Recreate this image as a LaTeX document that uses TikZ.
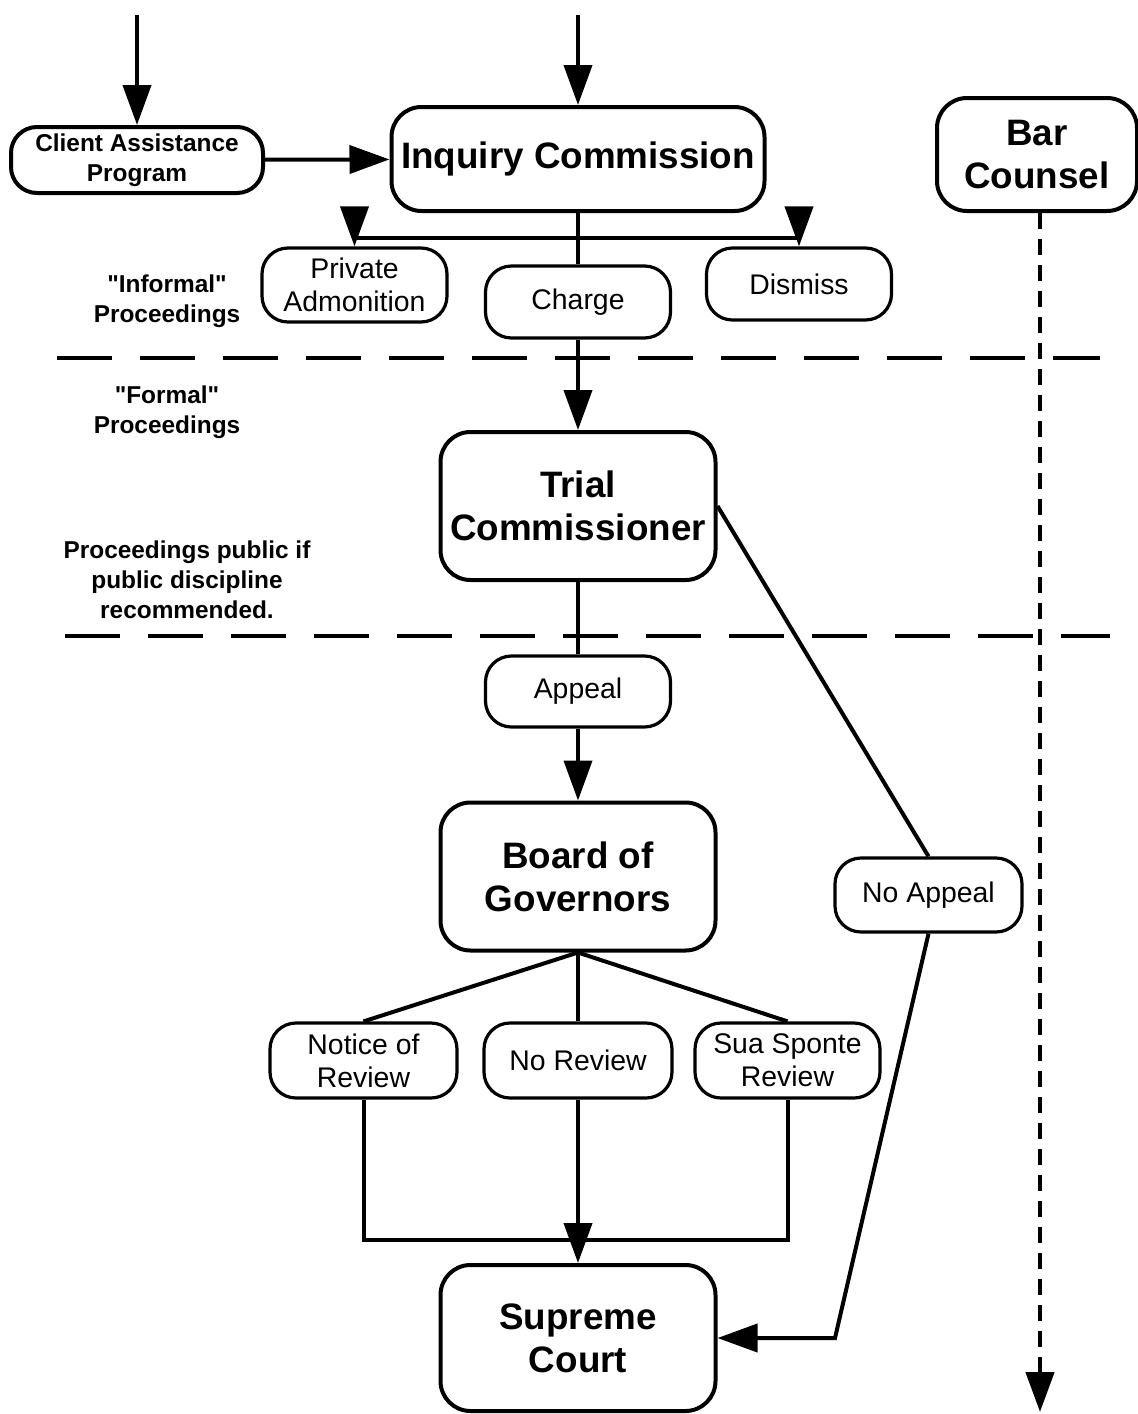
\documentclass[tikz,border=0pt]{standalone}
\usepackage{fontspec}
\setmainfont{Liberation Sans}[Ligatures=TeXOff]
\usetikzlibrary{arrows.meta}

\tikzset{
  bigbox/.style={draw, line width=2pt, rounded corners=15pt, inner sep=0pt, align=center,
    minimum width=137.5pt, minimum height=74pt, font=\fontsize{18.4}{21.5}\selectfont\bfseries},
  smallbox/.style={draw, line width=1.6pt, rounded corners=13pt, inner sep=0pt, align=center,
    minimum width=92.5pt, minimum height=37pt, font=\fontsize{14.2}{16.5}\selectfont},
  note/.style={align=center, font=\fontsize{12.2}{15}\selectfont\bfseries},
  flow/.style={-{Triangle[length=20pt,width=14pt]}},
  sep/.style={line width=2.2pt, dash pattern=on 27.5pt off 14pt}
}

\begin{document}
\begin{tikzpicture}[x=0.5pt, y=-0.5pt, line width=2pt]
        \useasboundingbox (0,0) rectangle (1138,1414);

        % caixas principais
        \node[bigbox, minimum width=186.5pt, minimum height=52pt] (inq) at (578,159) {Inquiry Commission};
        \node[bigbox, minimum width=100pt, minimum height=56.5pt] (bar) at (1037,154.5) {Bar\\Counsel};
        \node[bigbox] (trial) at (578,506) {Trial\\Commissioner};
        \node[bigbox] (board) at (578,876.5) {Board of\\Governors};
        \node[bigbox, minimum height=73pt] (sup) at (578,1338) {Supreme\\Court};
        \node[note, draw, line width=2pt, rounded corners=13pt, minimum width=126pt, minimum height=33pt, inner sep=0pt] (cap) at (137,160) {Client Assistance\\Program};

        % decisoes
        \node[smallbox] (priv) at (354.5,285) {Private\\Admonition};
        \node[smallbox, minimum height=36pt] (charge) at (578,302) {Charge};
        \node[smallbox, minimum height=36pt] (dismiss) at (799,284) {Dismiss};
        \node[smallbox, minimum height=35.5pt] (appeal) at (578,691.5) {Appeal};
        \node[smallbox, minimum width=93.5pt] (noapp) at (928.5,895) {No Appeal};
        \node[smallbox, minimum width=93.5pt, minimum height=37.5pt] (notice) at (363.5,1060.5) {Notice of\\Review};
        \node[smallbox, minimum width=94pt, minimum height=37.5pt] (norev) at (578,1060.5) {No Review};
        \node[smallbox, minimum height=37.5pt] (sua) at (787.5,1060.5) {Sua Sponte\\Review};

        % textos laterais
        \node[note] (informal) at (167,301) {"Informal"\\Proceedings};
        \node[note] (formal) at (167,412) {"Formal"\\Proceedings};
        \node[note] (public) at (187,580) {Proceedings public if\\public discipline\\recommended.};

        % linhas tracejadas
        \draw[sep] (57,358) -- (1100,358);
        \draw[sep] (65,636) -- (1110,636);

        % entradas
        \coordinate (in1) at (cap.north |- 0,15);
        \coordinate (in2) at (inq.north |- 0,15);
        \draw[flow] (in1) -- (cap.north);
        \draw[flow] (in2) -- (inq.north);
        \draw[flow] (cap) -- (inq);

        % ramos da Inquiry Commission
        \coordinate (hb) at (578,238);
        \coordinate (jl) at (priv.north |- hb);
        \coordinate (jr) at (dismiss.north |- hb);
        \draw[line width=2.4pt] (jl) -- (jr);
        \draw (inq.south) -- (charge.north);
        \draw[flow] (jl) -- (priv.north);
        \draw[flow] (jr) -- (dismiss.north);
        \draw[flow] (charge) -- (trial);

        % recurso
        \draw (trial) -- (appeal);
        \draw[flow] (appeal) -- (board);
        \coordinate (bend) at (835,1338);
        \draw (trial.east) -- (noapp.north);
        \draw[flow] (noapp.south) -- (bend) -- (sup.east);

        % revisao
        \coordinate (mrg) at (578,1240);
        \draw (board.south) -- (notice.north);
        \draw (board.south) -- (norev.north);
        \draw (board.south) -- (sua.north);
        \draw (notice.south) |- (mrg) -| (sua.south);
        \draw[flow] (norev) -- (sup);

        % bar counsel
        \coordinate (bartop) at ([xshift=1.5pt]bar.south);
        \coordinate (barend) at (bartop |- 0,1412);
        \draw[flow, line width=2.3pt, dash pattern=on 8pt off 5pt] (bartop) -- (barend);
    \end{tikzpicture}
\end{document}
